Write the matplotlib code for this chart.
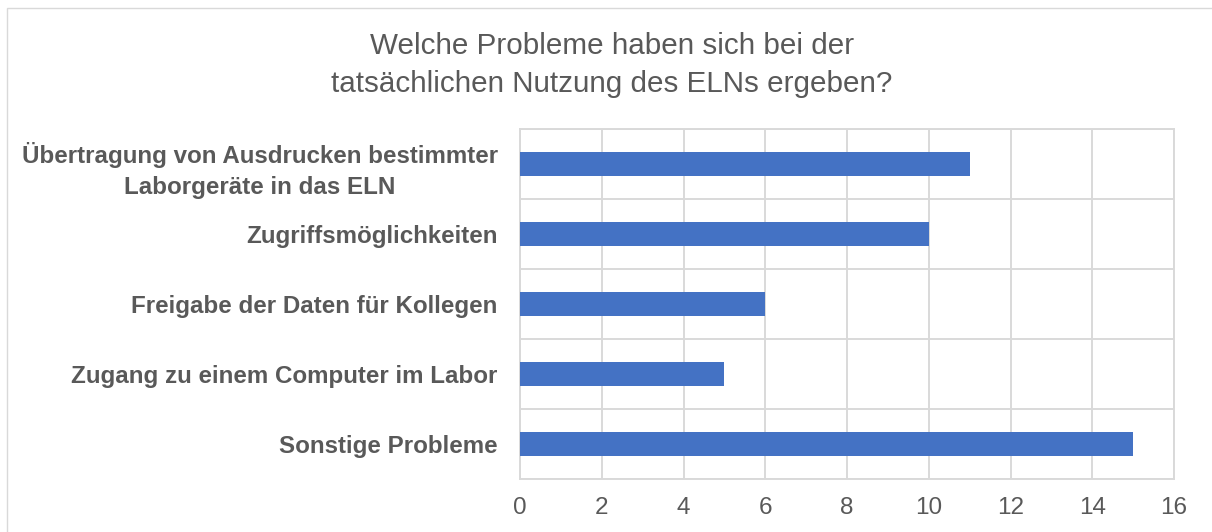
import matplotlib
matplotlib.use("Agg")
import matplotlib.pyplot as plt
from matplotlib.patches import Rectangle

plt.rcParams['font.family'] = ['Liberation Sans', 'DejaVu Sans']

# data, top to bottom as shown
categories = ['Übertragung von Ausdrucken bestimmter\nLaborgeräte in das ELN',
              'Zugriffsmöglichkeiten',
              'Freigabe der Daten für Kollegen',
              'Zugang zu einem Computer im Labor',
              'Sonstige Probleme']
values = [11, 10, 6, 5, 15]
xticks = [0, 2, 4, 6, 8, 10, 12, 14, 16]

title = 'Welche Probleme haben sich bei der\ntatsächlichen Nutzung des ELNs ergeben?'

text_col = '#595959'
grid_col = '#D9D9D9'
bar_col = '#4472C4'

W, H = 1212, 532
fig = plt.figure(figsize=(W / 100, H / 100), dpi=100)
ax = fig.add_axes([520 / W, 1 - 479 / H, (1174 - 520) / W, (479 - 129) / H])

pos = list(range(len(categories)))
ax.barh(pos, values, height=0.35, color=bar_col, zorder=3)

ax.set_xlim(0, 16)
ax.set_ylim(len(categories) - 0.5, -0.5)
ax.set_xticks(xticks)
ax.set_yticks(pos)
ax.set_yticklabels(categories, fontweight='bold', multialignment='center',
                   linespacing=1.42)
ax.set_yticks([p - 0.5 for p in pos] + [len(pos) - 0.5], minor=True)

ax.grid(axis='x', color=grid_col, lw=1.4, zorder=0)
ax.grid(axis='y', which='minor', color=grid_col, lw=1.4, zorder=0)
ax.tick_params(axis='both', which='both', length=0)
ax.tick_params(axis='x', labelsize=17.5, labelcolor=text_col, pad=13)
ax.tick_params(axis='y', labelsize=17.4, labelcolor=text_col, pad=16)
for s in ax.spines.values():
    s.set_color(grid_col)
    s.set_linewidth(1.4)

fig.text(612 / W, 1 - 65 / H, title, ha='center', va='center',
         fontsize=21.3, color=text_col, linespacing=1.45)

# outer chart border (runs off the right and bottom edge)
fig.patches.append(Rectangle((7 / W, -0.1), 2, 1 - 8 / H + 0.1,
                             transform=fig.transFigure, fill=False,
                             edgecolor=grid_col, lw=1))

fig.savefig('out.png', dpi=100)
